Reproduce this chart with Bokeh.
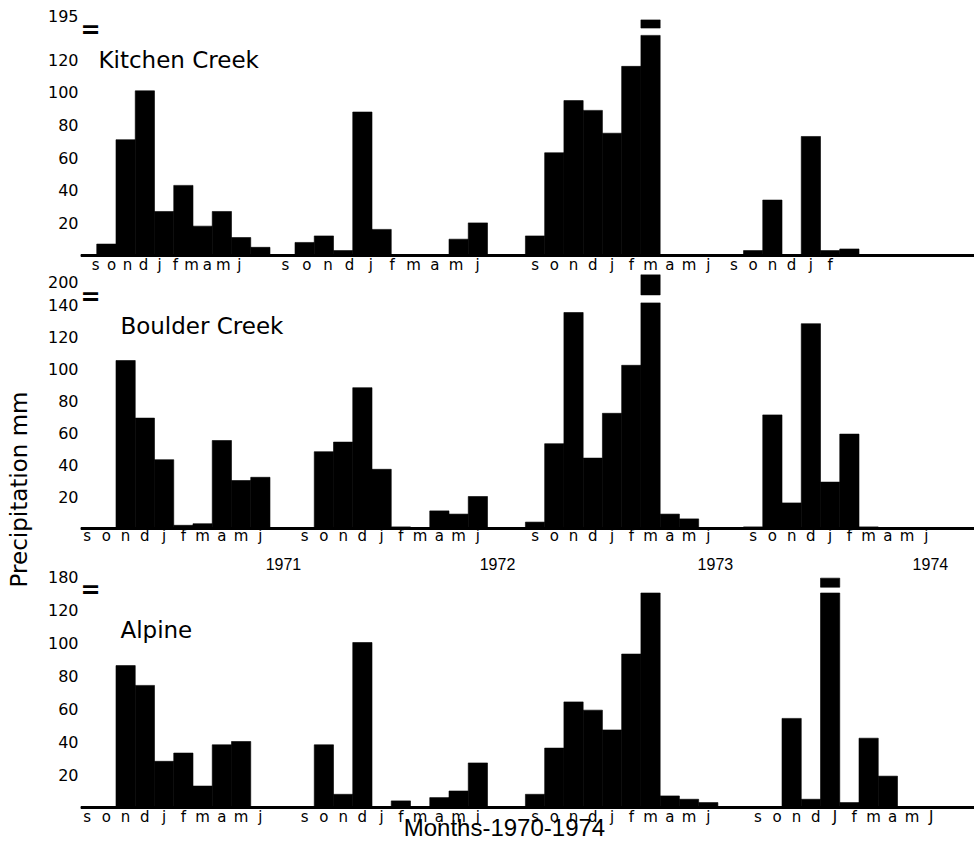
import math
from bokeh.plotting import figure
from bokeh.layouts import row, column
from bokeh.models import Range1d, FixedTicker, Label, Span, ColumnDataSource
from bokeh.core.properties import value
from bokeh.embed import file_html
from bokeh.resources import INLINE

# ---------------- data (mm of precipitation, months Sep..Jun of each season) -------------
MONTHS = ["s", "o", "n", "d", "j", "f", "m", "a", "m", "j"]
SEASONS = ["1970-71", "1971-72", "1972-73", "1973-74"]
YEARS = ["1971", "1972", "1973", "1974"]

KITCHEN_CREEK = [
    0, 7, 71, 101, 27, 43, 18, 27, 11, 5,       # 1970-71
    8, 12, 3, 88, 16, 0, 0, 0, 10, 20,          # 1971-72
    12, 63, 95, 89, 75, 116, 195, 0, 0, 0,      # 1972-73
    3, 34, 0, 73, 3, 4, 0, 0, 0, 0,             # 1973-74
]
BOULDER_CREEK = [
    0, 0, 105, 69, 43, 2, 3, 55, 30, 32,
    0, 48, 54, 88, 37, 1, 0, 11, 9, 20,
    4, 53, 135, 44, 72, 102, 200, 9, 6, 0,
    1, 71, 16, 128, 29, 59, 1, 0, 0, 0,
]
ALPINE = [
    0, 0, 86, 74, 28, 33, 13, 38, 40, 0,
    0, 38, 8, 100, 0, 4, 0, 6, 10, 27,
    8, 36, 64, 59, 47, 93, 130, 7, 5, 3,
    0, 0, 54, 5, 180, 3, 42, 19, 0, 0,
]

KC_TICKS = [20, 40, 60, 80, 100, 120]
BC_TICKS = [20, 40, 60, 80, 100, 120, 140]
AL_TICKS = [20, 40, 60, 80, 100, 120]

KC_MONTH_LABELS = [MONTHS, MONTHS, MONTHS, MONTHS[:6]]
BC_MONTH_LABELS = [MONTHS, MONTHS, MONTHS, MONTHS]
AL_MONTH_LABELS = [MONTHS, MONTHS, MONTHS, ["s", "o", "n", "d", "J", "f", "m", "a", "m", "J"]]

BREAK_THRESHOLD = 150   # values above this are drawn with a broken bar

# ---------------- layout constants --------------------------------------------------------
SEASON_START = [0.0, 11.3, 23.27, 34.6]       # slot where each September begins
X_RANGE = (0.156, 46.6)
YEAR_POS = [10.7, 21.82, 33.14, 44.31]
FONT = "DejaVu Sans"
FONT2 = "Liberation Sans"
PANEL_W = 938
LEFT_W = 36


def make_panel(name, values, ticks, month_labels, label_layout, y_range, height,
               cut, cap, top_pos, title_xy, eq_y, month_y):
    p = figure(width=PANEL_W, height=height, output_backend="svg", toolbar_location=None,
               x_range=Range1d(*X_RANGE), y_range=Range1d(*y_range), x_axis_type=None,
               min_border_left=80 - LEFT_W, min_border_right=0,
               min_border_top=0, min_border_bottom=0)
    p.outline_line_color = None
    p.grid.visible = False
    p.background_fill_color = "white"
    p.border_fill_color = "white"

    xs, tops, cap_x = [], [], []
    for k, start in enumerate(SEASON_START):
        for i in range(10):
            v = values[k * 10 + i]
            xs.append(start + i + 0.5)
            if v > BREAK_THRESHOLD:
                tops.append(cut)
                cap_x.append(start + i + 0.5)
            else:
                tops.append(v)
    src = ColumnDataSource(dict(x=xs, top=tops, value=values))
    p.vbar(x="x", top="top", bottom=0, width=1.0, source=src,
           fill_color="black", line_color="black", line_width=0.6)
    if cap_x:
        p.vbar(x=cap_x, top=cap[1], bottom=cap[0], width=1.0,
               fill_color="black", line_color="black", line_width=0.6)

    # baseline
    p.add_layout(Span(location=0, dimension="width", line_color="black", line_width=3))

    # month letters under the baseline
    tick_pos, labs = [], []
    for k, start in enumerate(SEASON_START):
        a, b = label_layout[k]
        for i, lab in enumerate(month_labels[k]):
            tick_pos.append(start + a + i * b)
            labs.append(lab)
    p.text(x=tick_pos, y=[month_y] * len(tick_pos), text=labs,
           text_font=value(FONT), text_font_size="15px", text_color="black",
           text_align="center", text_baseline="middle")

    # y axis
    max_v = max(values)
    ya = p.yaxis[0]
    ya.ticker = FixedTicker(ticks=ticks + [top_pos])
    ya.major_label_overrides = {top_pos: str(max_v)}
    ya.axis_line_color = None
    ya.major_tick_line_color = None
    ya.minor_tick_line_color = None
    ya.major_tick_out = 0
    ya.major_tick_in = 0
    ya.minor_tick_out = 0
    ya.major_label_text_font = FONT
    ya.major_label_text_font_size = "16px"
    ya.major_label_text_color = "black"
    ya.major_label_standoff = 2

    # break mark next to the top label
    p.add_layout(Label(x=X_RANGE[0], y=eq_y, text="=", text_font=FONT, text_font_size="24px",
                       text_font_style="bold", text_align="left", text_baseline="middle",
                       text_color="black"))
    # station name
    p.add_layout(Label(x=title_xy[0], y=title_xy[1], text=name, text_font=FONT,
                       text_font_size="23px", text_align="left", text_baseline="middle",
                       text_color="black"))
    return p


p1 = make_panel("Kitchen Creek", KITCHEN_CREEK, KC_TICKS, KC_MONTH_LABELS,
                [(0.94, 0.83), (-0.5, 1.109), (0.5, 1.0), (-0.5, 1.0)],
                y_range=(-11.66, 156.4), height=274,
                cut=135, cap=(139.5, 144.5), top_pos=147, title_xy=(1.09, 119.9), eq_y=138,
                month_y=-6.1)
p2 = make_panel("Boulder Creek", BOULDER_CREEK, BC_TICKS, BC_MONTH_LABELS,
                [(0.5, 1.0)] * 4,
                y_range=(-12.5, 158.75), height=274,
                cut=141, cap=(146, 160), top_pos=154, title_xy=(2.23, 126.6), eq_y=145,
                month_y=-4.4)
p3 = make_panel("Alpine", ALPINE, AL_TICKS, AL_MONTH_LABELS,
                [(0.5, 1.0), (0.5, 1.0), (0.5, 1.0), (0.75, 1.0)],
                y_range=(-26.06, 156.97), height=302,
                cut=130, cap=(133.5, 139), top_pos=140, title_xy=(2.23, 107.3), eq_y=132,
                month_y=-5.9)
# year marks that sit under the Boulder Creek month row (drawn in the strip below it)
p3.text(x=YEAR_POS, y=[147.6] * len(YEAR_POS), text=YEARS,
        text_font=value(FONT2), text_font_size="16px", text_color="black",
        text_align="center", text_baseline="middle")
p3.text(x=[22.18], y=[-12.1], text=["Months-1970-1974"],
        text_font=value(FONT2), text_font_size="24px", text_color="black",
        text_align="center", text_baseline="middle")

# left strip with the common y-axis title
TOTAL_H = 274 + 274 + 302
left = figure(width=LEFT_W, height=TOTAL_H, output_backend="svg", toolbar_location=None,
              x_range=Range1d(0, LEFT_W), y_range=Range1d(0, TOTAL_H),
              x_axis_type=None, y_axis_type=None,
              min_border_left=0, min_border_right=0, min_border_top=0, min_border_bottom=0)
left.outline_line_color = None
left.grid.visible = False
left.add_layout(Label(x=18, y=TOTAL_H - 489, text="Precipitation mm", angle=math.pi / 2,
                      text_font=FONT, text_font_size="23px", text_align="center",
                      text_baseline="middle", text_color="black"))

layout = row(left, column(p1, p2, p3))
open("out.html", "w").write(file_html(layout, INLINE))
